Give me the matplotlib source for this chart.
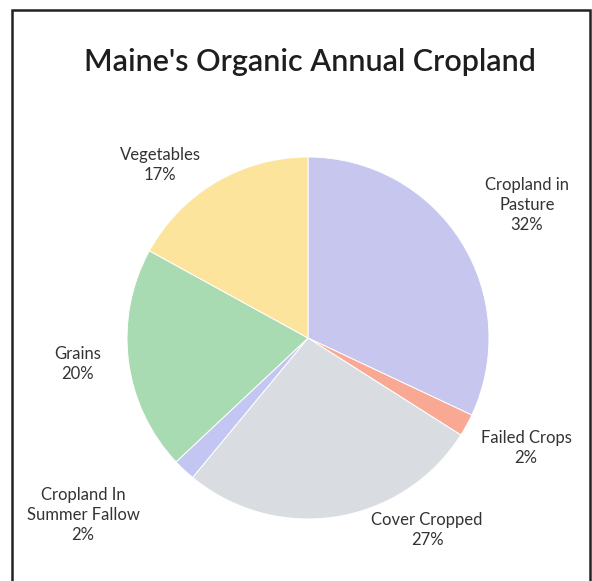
import matplotlib
matplotlib.use('Agg')
import matplotlib.pyplot as plt
from matplotlib.patches import Rectangle

plt.rcParams['font.family'] = ['Lato', 'DejaVu Sans']

# Data
categories = ['Cropland in\nPasture', 'Failed Crops', 'Cover Cropped',
              'Cropland In\nSummer Fallow', 'Grains', 'Vegetables']
shares = [32, 2, 27, 2, 20, 17]
colors = ['#c6c6ef', '#f9a893', '#d9dde2', '#c3c5f2', '#a9dbb2', '#fde49c']

# Label centres in pixels (x from left, y from top)
label_xy = [(527, 205), (526, 448), (427, 530), (83, 515), (78, 364), (160, 165)]

W, H = 592, 581
fig = plt.figure(figsize=(W / 100, H / 100), dpi=100)
ax = fig.add_axes([0, 0, 1, 1])

cx, cy, r = 308, 338, 181
ax.pie(shares, colors=colors, startangle=90, counterclock=False,
       center=(cx, H - cy), radius=r, frame=True,
       wedgeprops=dict(edgecolor='white', linewidth=0.7))
ax.set_xlim(0, W)
ax.set_ylim(0, H)
ax.axis('off')

for name, val, (lx, ly) in zip(categories, shares, label_xy):
    ax.text(lx, H - ly, f"{name}\n{val}%", ha='center', va='center',
            fontsize=12, color='#333333', linespacing=1.3)

ax.text(W / 2 + 14, H - 62, "Maine's Organic Annual Cropland", ha='center',
        va='center', fontsize=22, color='#1e1e1e', fontweight='semibold')

# chart border
ax.add_patch(Rectangle((12, -10), 578, H - 10 + 10, fill=False,
                       edgecolor='#222222', linewidth=1.8))

fig.savefig('out.png', dpi=100)
